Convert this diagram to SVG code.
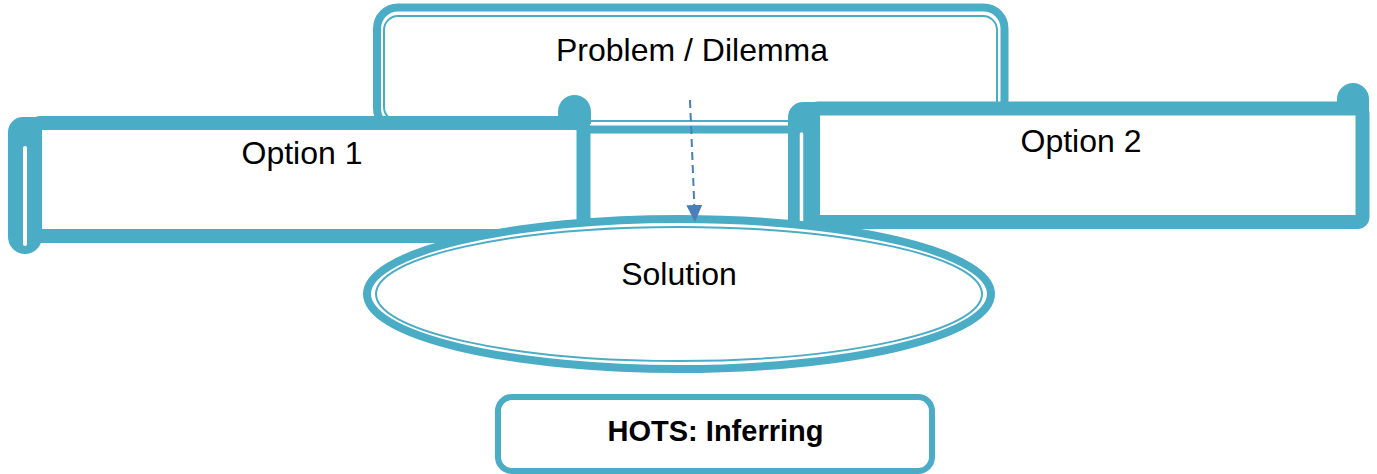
<svg xmlns="http://www.w3.org/2000/svg" width="1377" height="474" viewBox="0 0 1377 474">
  <style>
    .line { stroke: #4BACC6; }
    .teal { fill: #4BACC6; }
    .paper { fill: #FFFFFF; }
    .slot { stroke: #FFFFFF; stroke-linecap: round; fill: none; }
    .label { font-family: "Liberation Sans", Arial, Helvetica, sans-serif; font-size: 32px; fill: #000000; text-anchor: middle; }
    .bold { font-weight: bold; font-size: 29px; }
  </style>
  <defs>
    <marker id="arrowhead" markerWidth="18" markerHeight="18" refX="0" refY="8" orient="auto" markerUnits="userSpaceOnUse">
      <path d="M0,0 L17,8 L0,16 Z" fill="#4A7EBB"/>
    </marker>
  </defs>

  <rect width="1377" height="474" fill="#FFFFFF"/>

  <!-- Problem: double-bordered rounded box -->
  <g id="problem">
    <rect x="377" y="7.5" width="627.5" height="122" rx="21" class="paper line" stroke-width="8"/>
    <rect x="384" y="16" width="613" height="105" rx="14" fill="none" class="line" stroke-width="2"/>
    <text x="692" y="61" class="label">Problem / Dilemma</text>
  </g>

  <!-- Option 1: horizontal scroll -->
  <g id="option1">
    <rect x="35" y="123" width="548.5" height="113" rx="5" class="paper line" stroke-width="14"/>
    <path d="M8 132 A15 15 0 0 1 23 117 H42 V237 A17 17 0 0 1 8 237 Z" class="teal"/>
    <line x1="25" y1="148" x2="25" y2="244" class="slot" stroke-width="4"/>
    <path d="M558 124 V111.5 A16.5 16.5 0 0 1 591 111.5 V124 Z" class="teal"/>
    <text x="302" y="164" class="label">Option 1</text>
  </g>

  <!-- Option 2: horizontal scroll -->
  <g id="option2">
    <rect x="813" y="108.5" width="549.5" height="113.5" rx="5" class="paper line" stroke-width="14"/>
    <path d="M788 117 A15 15 0 0 1 803 102 H820 V236 A16 16 0 0 1 788 236 Z" class="teal"/>
    <line x1="801.5" y1="134" x2="801.5" y2="242" class="slot" stroke-width="3.5"/>
    <path d="M1337 110 V99 A16 16 0 0 1 1369 99 V110 Z" class="teal"/>
    <text x="1081" y="152" class="label">Option 2</text>
  </g>

  <!-- Solution: double-bordered ellipse -->
  <g id="solution">
    <ellipse cx="679" cy="294" rx="312" ry="75" class="paper line" stroke-width="8"/>
    <ellipse cx="679" cy="294" rx="303" ry="67" fill="none" class="line" stroke-width="2"/>
    <text x="679" y="285" class="label">Solution</text>
  </g>

  <!-- Connectors -->
  <g id="connectors">
    <line x1="690" y1="100" x2="694.3" y2="205" stroke="#4A7EBB" stroke-width="2" stroke-dasharray="8 5" marker-end="url(#arrowhead)"/>
  </g>

  <!-- Thinking-skill tag -->
  <g id="hots">
    <rect x="498" y="397" width="434" height="74" rx="14" class="paper line" stroke-width="6"/>
    <text x="715.5" y="441" class="label bold">HOTS: Inferring</text>
  </g>
</svg>
